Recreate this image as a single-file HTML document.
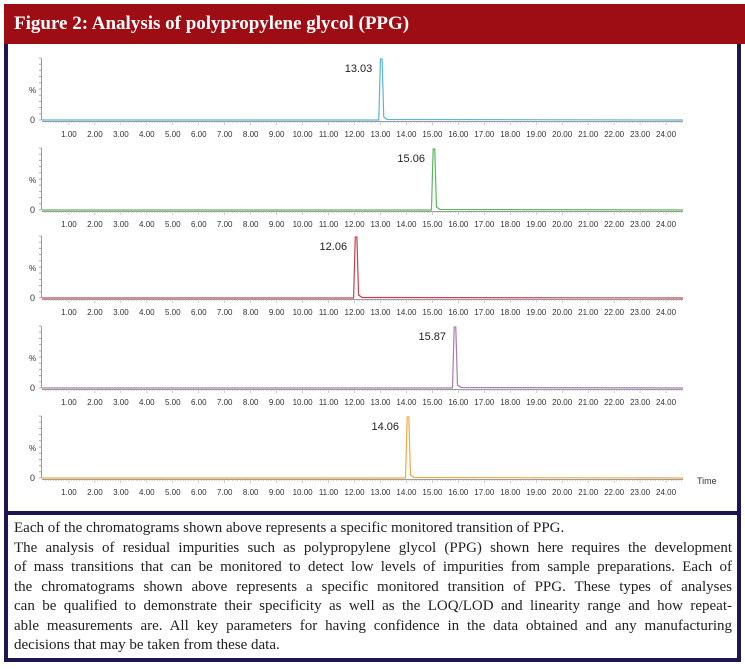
<!DOCTYPE html>
<html><head><style>
body{margin:0;width:745px;height:669px;background:#fff;overflow:hidden;position:relative}
.hdr{position:absolute;left:4px;top:4px;width:741px;height:40px;background:#9e0c14;color:#fff;font:bold 19px "Liberation Serif",serif;line-height:40px;padding-left:10px;box-sizing:border-box}
.box{position:absolute;left:4px;top:44px;width:737px;height:618px;border:4px solid #1e1650;border-top:none;box-sizing:border-box}
.div{position:absolute;left:4px;top:511px;width:737px;height:4px;background:#1e1650}
.txt{position:absolute;left:14px;top:519px;width:718px;font:15px "Liberation Serif",serif;line-height:19.5px;color:#222}
.txt div{text-align:justify;text-align-last:justify;white-space:nowrap}
.txt div.l{text-align-last:left}
svg{position:absolute;left:0;top:0}
</style></head><body>
<div class="hdr">Figure 2: Analysis of polypropylene glycol (PPG)</div>
<div class="box"></div>
<div class="div"></div>
<svg id="s" width="745" height="511" font-family="Liberation Sans, sans-serif"></svg>
<div class="txt">
<div class="l">Each of the chromatograms shown above represents a specific monitored transition of PPG.</div>
<div>The analysis of residual impurities such as polypropylene glycol (PPG) shown here requires the development</div>
<div>of mass transitions that can be monitored to detect low levels of impurities from sample preparations. Each of</div>
<div>the chromatograms shown above represents a specific monitored transition of PPG. These types of analyses</div>
<div>can be qualified to demonstrate their specificity as well as the LOQ/LOD and linearity range and how repeat-</div>
<div>able measurements are. All key parameters for having confidence in the data obtained and any manufacturing</div>
<div class="l">decisions that may be taken from these data.</div>
</div>
<script>
var s=document.getElementById('s'),h='';
var P=[[120,13.03,'#5ab4d6'],[210,15.06,'#5cb85c'],[298,12.06,'#c8404c'],[388,15.87,'#a87ab8'],[478,14.06,'#f0a848']];
function X(t){return 43+t*25.96}
P.forEach(function(p,i){var b=p[0];
h+='<line x1="41.5" y1="'+(b-62)+'" x2="41.5" y2="'+b+'" stroke="#999"/>';
for(var k=0;k<=10;k++)h+='<line x1="39" x2="41" y1="'+(b-62+k*6.2)+'" y2="'+(b-62+k*6.2)+'" stroke="#aaa"/>';
h+='<line x1="42" y1="'+(b+1.5)+'" x2="683" y2="'+(b+1.5)+'" stroke="#999"/>';
for(var t=0.1;t<24.65;t+=0.1){var big=Math.abs(t-Math.round(t))<0.01;h+='<line x1="'+X(t)+'" x2="'+X(t)+'" y1="'+(b+1)+'" y2="'+(b+(big?5:3))+'" stroke="#aaa" stroke-width="0.6"/>';}
for(var n=1;n<=24;n++)h+='<text x="'+X(n)+'" y="'+(b+17)+'" font-size="8" fill="#333" text-anchor="middle">'+n+'.00</text>';
h+='<text x="29" y="'+(b-27)+'" font-size="8" fill="#333">%</text><text x="30" y="'+(b+3)+'" font-size="9" fill="#333">0</text>';
var px=X(p[1]),d='M42 '+b+' L'+(px-2.5)+' '+b+' L'+(px-0.8)+' '+(b-61)+' L'+(px+0.8)+' '+(b-61)+' L'+(px+2.5)+' '+(b-3)+' L'+(px+6)+' '+(b-0.5)+' L683 '+b;
h+='<path d="'+d+'" fill="none" stroke="'+p[2]+'" stroke-width="1.2"/>';
h+='<text x="'+(px-9)+'" y="'+(b-48)+'" font-size="11" fill="#222" text-anchor="end">'+p[1].toFixed(2)+'</text>';
});
h+='<text x="697" y="484" font-size="9" fill="#333">Time</text>';
s.innerHTML=h;
</script>
</body></html>
